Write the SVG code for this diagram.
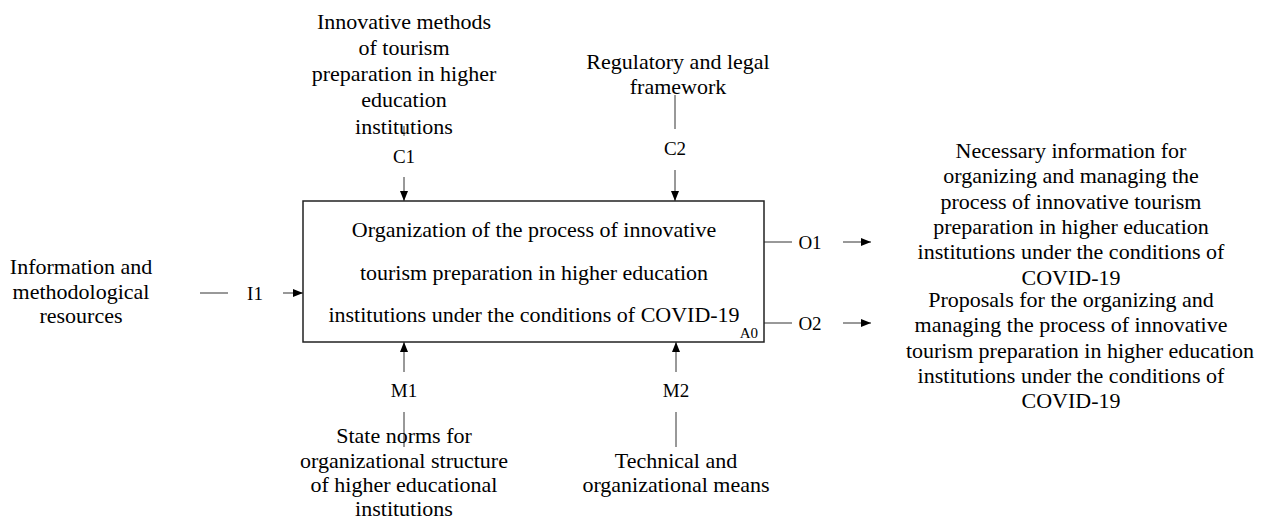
<svg xmlns="http://www.w3.org/2000/svg" width="1266" height="525" viewBox="0 0 1266 525">
<style>
text{font-family:"Liberation Serif","Times New Roman",serif;fill:#000;}
.t{font-size:22px;text-anchor:middle;}
.l{font-size:19px;text-anchor:middle;}
.a0{font-size:15px;text-anchor:end;}
.ln{stroke:#333;stroke-width:1;fill:none;}
.ar{stroke:#333;stroke-width:1;fill:none;marker-end:url(#ah);}
.box{fill:#fff;stroke:#222;stroke-width:1.5;}
</style>
<defs>
<marker id="ah" markerWidth="10" markerHeight="8" refX="10" refY="4" orient="auto" markerUnits="userSpaceOnUse">
<path d="M0,0 L10,4 L0,8 Z" fill="#000"/>
</marker>
</defs>
<g id="connectors">
<line class="ln" x1="404" y1="126" x2="404" y2="136"/>
<line class="ar" x1="404" y1="177" x2="404" y2="201"/>
<line class="ln" x1="675" y1="95" x2="675" y2="129"/>
<line class="ar" x1="675" y1="170" x2="675" y2="201"/>
<line class="ln" x1="200" y1="293" x2="228" y2="293"/>
<line class="ar" x1="283" y1="293" x2="303" y2="293"/>
<line class="ln" x1="764" y1="242" x2="792" y2="242"/>
<line class="ar" x1="843" y1="242" x2="871" y2="242"/>
<line class="ln" x1="764" y1="323" x2="792" y2="323"/>
<line class="ar" x1="843" y1="323" x2="871" y2="323"/>
<line class="ar" x1="404" y1="372" x2="404" y2="342"/>
<line class="ln" x1="404" y1="412" x2="404" y2="447"/>
<line class="ar" x1="676" y1="372" x2="676" y2="342"/>
<line class="ln" x1="676" y1="412" x2="676" y2="447"/>
</g>
<g id="A0">
<rect class="box" x="303" y="201" width="461" height="141"/>
<text class="t" x="534" y="237">Organization of the process of innovative</text>
<text class="t" x="534" y="280">tourism preparation in higher education</text>
<text class="t" x="534" y="322">institutions under the conditions of COVID-19</text>
<text class="a0" x="758" y="338">A0</text>
</g>
<g id="C1">
<text class="t" x="404" y="29">Innovative methods</text>
<text class="t" x="404" y="55">of tourism</text>
<text class="t" x="404" y="81">preparation in higher</text>
<text class="t" x="404" y="107">education</text>
<text class="t" x="404" y="134">institutions</text>
<text class="l" x="404" y="163">C1</text>
</g>
<g id="C2">
<text class="t" x="678" y="69">Regulatory and legal</text>
<text class="t" x="678" y="94">framework</text>
<text class="l" x="675" y="155">C2</text>
</g>
<g id="I1">
<text class="t" x="81" y="274">Information and</text>
<text class="t" x="81" y="299">methodological</text>
<text class="t" x="81" y="323">resources</text>
<text class="l" x="255" y="300">I1</text>
</g>
<g id="O1">
<text class="l" x="810" y="249">O1</text>
<text class="t" x="1071" y="158">Necessary information for</text>
<text class="t" x="1071" y="183">organizing and managing the</text>
<text class="t" x="1071" y="209">process of innovative tourism</text>
<text class="t" x="1071" y="234">preparation in higher education</text>
<text class="t" x="1071" y="259">institutions under the conditions of</text>
<text class="t" x="1071" y="285">COVID-19</text>
</g>
<g id="O2">
<text class="l" x="810" y="330">O2</text>
<text class="t" x="1071" y="307">Proposals for the organizing and</text>
<text class="t" x="1071" y="332">managing the process of innovative</text>
<text class="t" x="1080" y="358">tourism preparation in higher education</text>
<text class="t" x="1071" y="383">institutions under the conditions of</text>
<text class="t" x="1071" y="408">COVID-19</text>
</g>
<g id="M1">
<text class="l" x="404" y="397">M1</text>
<text class="t" x="404" y="443">State norms for</text>
<text class="t" x="404" y="468">organizational structure</text>
<text class="t" x="404" y="492">of higher educational</text>
<text class="t" x="404" y="516">institutions</text>
</g>
<g id="M2">
<text class="l" x="676" y="397">M2</text>
<text class="t" x="676" y="468">Technical and</text>
<text class="t" x="676" y="492">organizational means</text>
</g>
</svg>
